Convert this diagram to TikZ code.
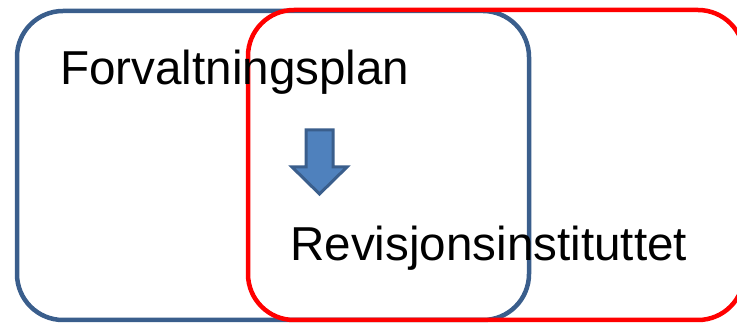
\documentclass[tikz,border=0pt]{standalone}
\usepackage{fontspec}
\setmainfont{Liberation Sans}
\usetikzlibrary{positioning}

\definecolor{planblue}{HTML}{3A5E8C}
\definecolor{arrowfill}{HTML}{4F81BD}
\definecolor{boxred}{HTML}{FF0000}

\tikzset{
	box/.style={rectangle,rounded corners=46pt,line width=4.5pt,inner sep=0pt},
	label/.style={anchor=base west,inner sep=0pt,font=\fontsize{47.6}{52}\selectfont}
}

\begin{document}
\begin{tikzpicture}[x=1pt,y=-1pt]
\useasboundingbox (0,0) rectangle (737,323);
\clip (0,0) rectangle (737,323);

\node[box,draw=planblue,minimum width=512pt,minimum height=309pt] (plan) at (273,165.5) {};
\node[box,draw=boxred,minimum width=496pt,minimum height=310pt] (revisjon) at (496,165) {};

\draw[planblue,fill=arrowfill,line width=3pt,line join=miter]
	(306,130) -- (333,130) -- (333,167) -- (347,167) -- (319.5,194) -- (292,167) -- (306,167) -- cycle;

\node[label] (plantext) at (60,85) {Forvaltningsplan};
\node[label] (revtext) at (290,261) {Revisjonsinstituttet};

\end{tikzpicture}
\end{document}
